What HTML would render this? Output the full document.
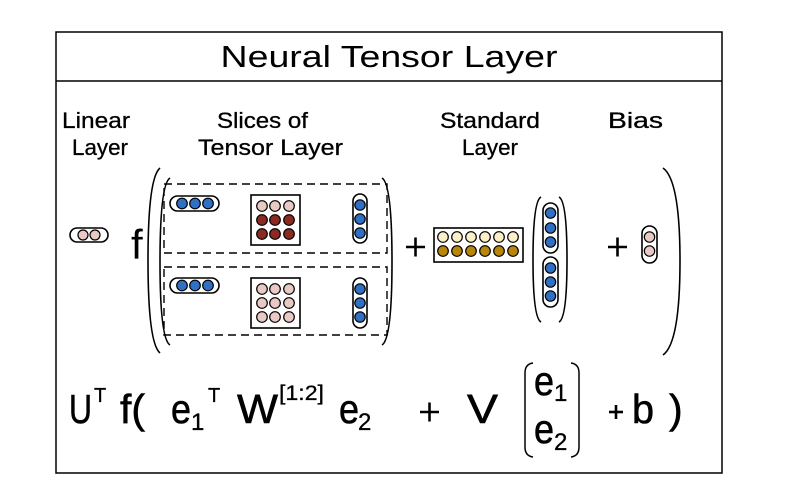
<!DOCTYPE html>
<html><head><meta charset="utf-8"><style>
html,body{margin:0;padding:0;background:#fff;}
svg{display:block;}
text{font-family:"Liberation Sans",sans-serif;fill:#000;}
</style></head><body>
<svg width="786" height="502" viewBox="0 0 786 502" xmlns="http://www.w3.org/2000/svg">
<rect x="56" y="32" width="666" height="441" fill="#fff" stroke="#000" stroke-width="1.5"/>
<line x1="56" y1="81" x2="722" y2="81" stroke="#000" stroke-width="1.5"/>
<text x="389" y="67" font-size="31" text-anchor="middle" textLength="337" lengthAdjust="spacingAndGlyphs">Neural Tensor Layer</text>

<g font-size="22" stroke="#000" stroke-width="0.3">
<text x="62" y="128" textLength="68" lengthAdjust="spacingAndGlyphs">Linear</text>
<text x="72" y="155" textLength="56" lengthAdjust="spacingAndGlyphs">Layer</text>
<text x="217" y="128" textLength="91" lengthAdjust="spacingAndGlyphs">Slices of</text>
<text x="198" y="155" textLength="145" lengthAdjust="spacingAndGlyphs">Tensor Layer</text>
<text x="440" y="128" textLength="100" lengthAdjust="spacingAndGlyphs">Standard</text>
<text x="462" y="155" textLength="56" lengthAdjust="spacingAndGlyphs">Layer</text>
<text x="608" y="128" textLength="55" lengthAdjust="spacingAndGlyphs">Bias</text>
</g>

<g fill="none" stroke="#000" stroke-width="1.6">
<path d="M160,168 Q148,178 148,260 Q148,343 160,353"/>
<path d="M170,178 Q160,184 160,262 Q160,339 170,345"/>
<path d="M382,178 Q392,184 392,262 Q392,339 382,345"/>
<path d="M663,168 Q680,180 680,261 Q680,343 663,355"/>
<path d="M541,197 Q533,201 533,260 Q533,318 541,322"/>
<path d="M559,197 Q567,201 567,260 Q567,318 559,322"/>
<rect x="164" y="184" width="223" height="69" stroke-dasharray="8,5" stroke-width="1.4"/>
<rect x="164" y="267" width="223" height="68" stroke-dasharray="8,5" stroke-width="1.4"/>
</g>

<text x="131" y="259" font-size="42">f</text>
<g stroke="#000" stroke-width="2.6">
<line x1="406" y1="247" x2="425" y2="247"/><line x1="415.5" y1="237.5" x2="415.5" y2="256.5"/>
<line x1="608" y1="247" x2="627" y2="247"/><line x1="617.5" y1="237.5" x2="617.5" y2="256.5"/>
<line x1="420" y1="412" x2="439" y2="412"/><line x1="429.5" y1="402.5" x2="429.5" y2="421.5"/>
<line x1="609" y1="412" x2="623" y2="412"/><line x1="616" y1="405" x2="616" y2="419"/>
</g>

<g stroke="#000" stroke-width="1.2">
<rect x="70" y="228" width="38" height="14" rx="7" fill="#fff" stroke-width="1.6"/>
<circle cx="83" cy="235" r="5" fill="#e8c9c4"/><circle cx="95" cy="235" r="5" fill="#e8c9c4"/>

<rect x="170" y="196" width="49" height="15" rx="7.5" fill="#fff" stroke-width="1.6"/>
<circle cx="182" cy="203.5" r="5.3" fill="#2f6fc4"/><circle cx="195" cy="203.5" r="5.3" fill="#2f6fc4"/><circle cx="208" cy="203.5" r="5.3" fill="#2f6fc4"/>
<rect x="251" y="195" width="49" height="50" fill="#fff" stroke-width="1.6"/>
<circle cx="262" cy="206" r="5.3" fill="#e8c9c4"/><circle cx="275" cy="206" r="5.3" fill="#e8c9c4"/><circle cx="289" cy="206" r="5.3" fill="#e8c9c4"/>
<circle cx="262" cy="220" r="5.3" fill="#8b2a22"/><circle cx="275" cy="220" r="5.3" fill="#8b2a22"/><circle cx="289" cy="220" r="5.3" fill="#8b2a22"/>
<circle cx="262" cy="234" r="5.3" fill="#8b2a22"/><circle cx="275" cy="234" r="5.3" fill="#8b2a22"/><circle cx="289" cy="234" r="5.3" fill="#8b2a22"/>
<rect x="353" y="194" width="14" height="49" rx="7" fill="#fff" stroke-width="1.6"/>
<circle cx="360" cy="205" r="5.2" fill="#2f6fc4"/><circle cx="360" cy="219" r="5.2" fill="#2f6fc4"/><circle cx="360" cy="233" r="5.2" fill="#2f6fc4"/>

<rect x="170" y="278" width="49" height="15" rx="7.5" fill="#fff" stroke-width="1.6"/>
<circle cx="182" cy="285.5" r="5.3" fill="#2f6fc4"/><circle cx="195" cy="285.5" r="5.3" fill="#2f6fc4"/><circle cx="208" cy="285.5" r="5.3" fill="#2f6fc4"/>
<rect x="251" y="278" width="49" height="50" fill="#fff" stroke-width="1.6"/>
<circle cx="262" cy="289" r="5.3" fill="#e8c9c4"/><circle cx="275" cy="289" r="5.3" fill="#e8c9c4"/><circle cx="289" cy="289" r="5.3" fill="#e8c9c4"/>
<circle cx="262" cy="303" r="5.3" fill="#e8c9c4"/><circle cx="275" cy="303" r="5.3" fill="#e8c9c4"/><circle cx="289" cy="303" r="5.3" fill="#e8c9c4"/>
<circle cx="262" cy="317" r="5.3" fill="#e8c9c4"/><circle cx="275" cy="317" r="5.3" fill="#e8c9c4"/><circle cx="289" cy="317" r="5.3" fill="#e8c9c4"/>
<rect x="353" y="278" width="14" height="50" rx="7" fill="#fff" stroke-width="1.6"/>
<circle cx="360" cy="289" r="5.2" fill="#2f6fc4"/><circle cx="360" cy="303" r="5.2" fill="#2f6fc4"/><circle cx="360" cy="317" r="5.2" fill="#2f6fc4"/>

<rect x="434" y="228" width="89" height="34" fill="#fff" stroke-width="1.6"/>
<circle cx="443" cy="237" r="5.3" fill="#fdf0c8"/><circle cx="457" cy="237" r="5.3" fill="#fdf0c8"/><circle cx="471" cy="237" r="5.3" fill="#fdf0c8"/><circle cx="485" cy="237" r="5.3" fill="#fdf0c8"/><circle cx="499" cy="237" r="5.3" fill="#fdf0c8"/><circle cx="513" cy="237" r="5.3" fill="#fdf0c8"/>
<circle cx="443" cy="251" r="5.3" fill="#b8860b"/><circle cx="457" cy="251" r="5.3" fill="#b8860b"/><circle cx="471" cy="251" r="5.3" fill="#b8860b"/><circle cx="485" cy="251" r="5.3" fill="#b8860b"/><circle cx="499" cy="251" r="5.3" fill="#b8860b"/><circle cx="513" cy="251" r="5.3" fill="#b8860b"/>

<rect x="543" y="203" width="15" height="50" rx="7.5" fill="#fff" stroke-width="1.6"/>
<circle cx="550.5" cy="213" r="5.2" fill="#2f6fc4"/><circle cx="550.5" cy="228" r="5.2" fill="#2f6fc4"/><circle cx="550.5" cy="242" r="5.2" fill="#2f6fc4"/>
<rect x="543" y="257" width="15" height="50" rx="7.5" fill="#fff" stroke-width="1.6"/>
<circle cx="550.5" cy="268" r="5.2" fill="#2f6fc4"/><circle cx="550.5" cy="282" r="5.2" fill="#2f6fc4"/><circle cx="550.5" cy="296" r="5.2" fill="#2f6fc4"/>

<rect x="642" y="226" width="15" height="37" rx="7.5" fill="#fff" stroke-width="1.6"/>
<circle cx="649.5" cy="237" r="5.2" fill="#e8c9c4"/><circle cx="649.5" cy="251" r="5.2" fill="#e8c9c4"/>
</g>

<g stroke="#000" stroke-width="0.6">
<text x="69" y="423" font-size="41" textLength="23" lengthAdjust="spacingAndGlyphs">U</text>
<text x="94" y="402" font-size="20" stroke-width="0.3">T</text>
<text x="120" y="423" font-size="41">f(</text>
<text x="171" y="423" font-size="41" textLength="20" lengthAdjust="spacingAndGlyphs">e</text>
<text x="191" y="430" font-size="24" stroke-width="0.3">1</text>
<text x="208" y="402" font-size="20" stroke-width="0.3">T</text>
<text x="237" y="423" font-size="41" textLength="41" lengthAdjust="spacingAndGlyphs">W</text>
<text x="279" y="400" font-size="21" stroke-width="0.3" textLength="45" lengthAdjust="spacingAndGlyphs">[1:2]</text>
<text x="339" y="423" font-size="41" textLength="20" lengthAdjust="spacingAndGlyphs">e</text>
<text x="358" y="430" font-size="24" stroke-width="0.3">2</text>
<text x="467" y="423" font-size="41" textLength="31" lengthAdjust="spacingAndGlyphs">V</text>
<text x="534" y="395" font-size="41" textLength="20" lengthAdjust="spacingAndGlyphs">e</text>
<text x="554" y="401" font-size="24" stroke-width="0.3">1</text>
<text x="534" y="443" font-size="41" textLength="20" lengthAdjust="spacingAndGlyphs">e</text>
<text x="554" y="450" font-size="24" stroke-width="0.3">2</text>
<text x="632" y="423" font-size="41" textLength="22" lengthAdjust="spacingAndGlyphs">b</text>
<text x="669" y="423" font-size="41">)</text>
</g>
<g fill="none" stroke="#000" stroke-width="1.5">
<path d="M533,363 Q525,364 525,373 L525,447 Q525,456 533,457"/>
<path d="M571,363 Q579,364 579,373 L579,447 Q579,456 571,457"/>
</g>
</svg>
</body></html>
